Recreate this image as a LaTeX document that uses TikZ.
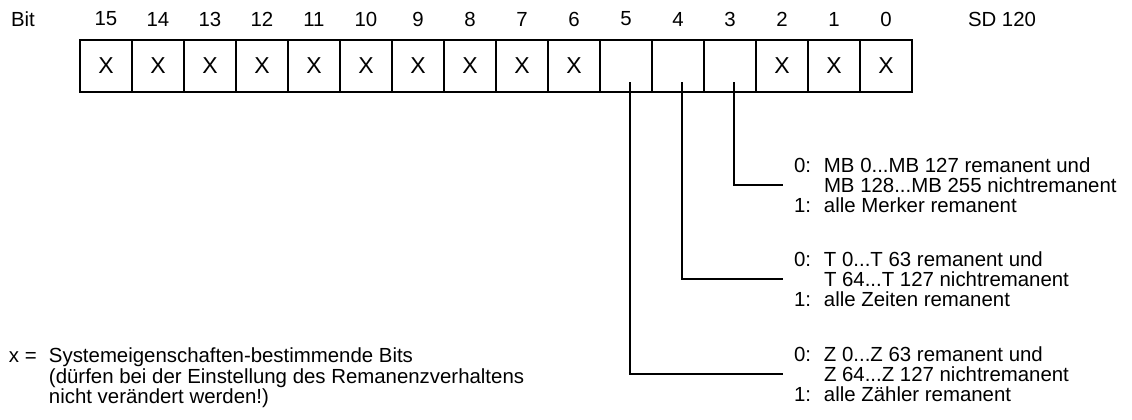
\documentclass[tikz,border=0pt]{standalone}
\usepackage{fontspec}
\setmainfont{Liberation Sans}
\usetikzlibrary{calc}

\begin{document}
\begin{tikzpicture}[x=.5pt,y=-.5pt,line width=1pt,font=\fontsize{10.2}{9.9}\selectfont,
  bitcell/.style={draw,minimum width=26pt,minimum height=26pt,inner sep=0pt,font=\fontsize{11.5}{12}\selectfont},
  legend/.style={anchor=west,align=left,inner xsep=5pt,inner ysep=0pt}]
\useasboundingbox (0,0) rectangle (1132,419);
\node at (23,19) {Bit}; \node[anchor=west,inner sep=0pt] at (967,19) {SD 120};
\foreach \b in {0,...,15} {
  \node[bitcell] (c\b) at ({106+(15-\b)*52},66) {\ifnum\b>5 X\else\ifnum\b<3 X\fi\fi};
  \node at ({106+(15-\b)*52},19) {\b};
}
\coordinate (t3) at ($(c3.center)+(4,16)$); \coordinate (t4) at ($(c4.center)+(4,16)$); \coordinate (t5) at ($(c5.center)+(4,16)$);
\node[legend] (mb) at (783,185) {\makebox[15pt][l]{0:}MB 0...MB 127 remanent und\\\hspace*{15pt}MB 128...MB 255 nichtremanent\\\makebox[15pt][l]{1:}alle Merker remanent};
\node[legend] (tz) at (783,279) {\makebox[15pt][l]{0:}T 0...T 63 remanent und\\\hspace*{15pt}T 64...T 127 nichtremanent\\\makebox[15pt][l]{1:}alle Zeiten remanent};
\node[legend] (zz) at (783,374) {\makebox[15pt][l]{0:}Z 0...Z 63 remanent und\\\hspace*{15pt}Z 64...Z 127 nichtremanent\\\makebox[15pt][l]{1:}alle Zähler remanent};
\draw (t3) |- (mb.west); \draw (t4) |- (tz.west); \draw (t5) |- (zz.west);
\node[anchor=west,align=left,inner sep=0pt,font=\fontsize{10.2}{10.2}\selectfont] (xb) at (8,378) {\makebox[20pt][l]{x =}Systemeigenschaften-bestimmende Bits\\\hspace*{20pt}(dürfen bei der Einstellung des Remanenzverhaltens\\\hspace*{20pt}nicht verändert werden!)};
\end{tikzpicture}
\end{document}
